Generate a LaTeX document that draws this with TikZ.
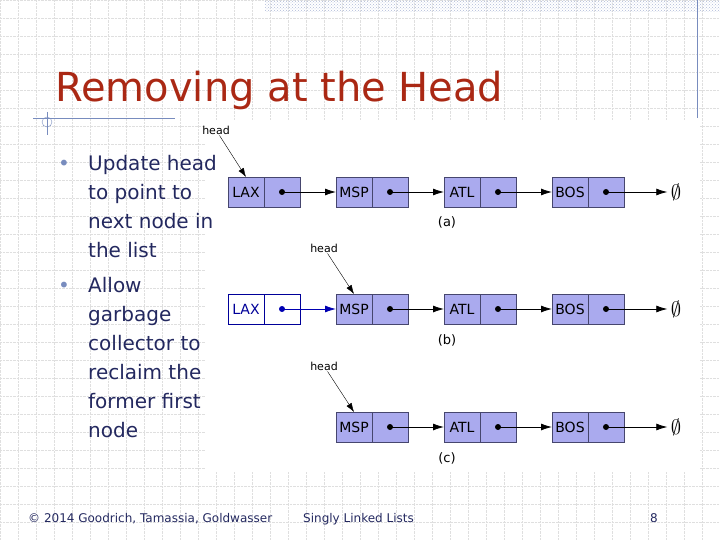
\documentclass[tikz,border=0pt]{standalone}
\usepackage{fontspec}
\setmainfont{DejaVu Sans}
\usetikzlibrary{positioning,arrows.meta,patterns}
\definecolor{cellfill}{RGB}{170,170,238}
\definecolor{cellline}{RGB}{70,70,110}
\definecolor{titlered}{RGB}{170,40,20}
\definecolor{bodyblue}{RGB}{35,40,95}
\definecolor{framel}{RGB}{120,140,190}
\begin{document}
\begin{tikzpicture}[x=1pt,y=-1pt,
    cell/.style={draw=cellline, fill=cellfill, minimum width=36pt, minimum height=30pt,
                 inner sep=0pt, outer sep=0pt, font=\fontsize{14}{14}\selectfont},
    oldcell/.style={cell, fill=white, draw=blue!60!black, text=blue!60!black},
    link/.style={-{Latex[length=11pt,width=7pt]}, thick},
    headlbl/.style={font=\fontsize{11}{11}\selectfont, inner sep=1pt},
    rowlbl/.style={font=\fontsize{13}{13}\selectfont\rmfamily},
    nil/.style={font=\fontsize{20}{20}\selectfont}]
  \useasboundingbox (0,0) rectangle (720,540);
  % background grid
  \foreach \g in {0,18,...,720} \draw[gray!25, densely dotted] (\g,0) -- (\g,540);
  \foreach \g in {0,18,...,540} \draw[gray!25, densely dotted] (0,\g) -- (720,\g);
  \fill[pattern=crosshatch dots, pattern color=framel!60] (265,0) rectangle (720,12);
  \draw[framel] (697,0) -- (697,118);
  \draw[framel] (33,118) -- (175,118);
  \draw[framel] (47,112) -- (47,135);
  \draw[framel] (47,122) circle (5);
  \fill[white] (205,120) rectangle (700,472);
  % title
  \node[anchor=base west, text=titlered, font=\fontsize{40}{40}\selectfont, inner sep=0pt]
    (title) at (55,102) {Removing at the Head};
  % bullets
  \begin{scope}[every node/.style={anchor=base west, inner sep=0pt, text=bodyblue,
                font=\fontsize{20}{20}\selectfont}]
    \node[text=framel] at (58,171) {\textbullet};
    \node at (88,171) {Update head};
    \node at (88,200) {to point to};
    \node at (88,229) {next node in};
    \node at (88,258) {the list};
    \node[text=framel] at (58,292) {\textbullet};
    \node at (88,292) {Allow};
    \node at (88,321) {garbage};
    \node at (88,350) {collector to};
    \node at (88,379) {reclaim the};
    \node at (88,408) {former first};
    \node at (88,437) {node};
  \end{scope}
  % row (a)
  \node[cell] (laxa) at (246,192) {LAX};
  \node[cell, right=0pt of laxa] (laxap) {};
  \node[cell] (mspa) at (354,192) {MSP};
  \node[cell, right=0pt of mspa] (mspap) {};
  \node[cell] (atla) at (462,192) {ATL};
  \node[cell, right=0pt of atla] (atlap) {};
  \node[cell] (bosa) at (570,192) {BOS};
  \node[cell, right=0pt of bosa] (bosap) {};
  \node[nil] (nulla) at (676,192) {$\emptyset$};
  \node[rowlbl] at (447,222) {(a)};
  \node[headlbl] (heada) at (216,130) {head};
  \draw[-{Latex[length=9pt,width=6pt]}] (heada) -- (laxa.north);
  % row (b)
  \node[oldcell] (laxb) at (246,309) {LAX};
  \node[oldcell, right=0pt of laxb] (laxbp) {};
  \node[cell] (mspb) at (354,309) {MSP};
  \node[cell, right=0pt of mspb] (mspbp) {};
  \node[cell] (atlb) at (462,309) {ATL};
  \node[cell, right=0pt of atlb] (atlbp) {};
  \node[cell] (bosb) at (570,309) {BOS};
  \node[cell, right=0pt of bosb] (bosbp) {};
  \node[nil] (nullb) at (676,309) {$\emptyset$};
  \node[rowlbl] at (447,340) {(b)};
  \node[headlbl] (headb) at (324,248) {head};
  \draw[-{Latex[length=9pt,width=6pt]}] (headb) -- (mspb.north);
  % row (c)
  \node[cell] (mspc) at (354,427) {MSP};
  \node[cell, right=0pt of mspc] (mspcp) {};
  \node[cell] (atlc) at (462,427) {ATL};
  \node[cell, right=0pt of atlc] (atlcp) {};
  \node[cell] (bosc) at (570,427) {BOS};
  \node[cell, right=0pt of bosc] (boscp) {};
  \node[nil] (nullc) at (676,427) {$\emptyset$};
  \node[rowlbl] at (447,458) {(c)};
  \node[headlbl] (headc) at (324,366) {head};
  \draw[-{Latex[length=9pt,width=6pt]}] (headc) -- (mspc.north);
  % links
  \foreach \p/\q in {laxap/mspa, mspap/atla, atlap/bosa, bosap/nulla,
                     mspbp/atlb, atlbp/bosb, bosbp/nullb,
                     mspcp/atlc, atlcp/bosc, boscp/nullc} {
    \fill (\p.center) circle (3);
    \draw[link] (\p.center) -- (\q.west);
  }
  \fill[blue!70!black] (laxbp.center) circle (3);
  \draw[link, blue!70!black] (laxbp.center) -- (mspb.west);
  % footer
  \begin{scope}[every node/.style={anchor=base west, inner sep=0pt, text=bodyblue,
                font=\fontsize{12}{12}\selectfont}]
    \node (copy) at (28,522) {© 2014 Goodrich, Tamassia, Goldwasser};
    \node (topic) at (303,522) {Singly Linked Lists};
    \node (page) at (650,522) {8};
  \end{scope}
\end{tikzpicture}
\end{document}
